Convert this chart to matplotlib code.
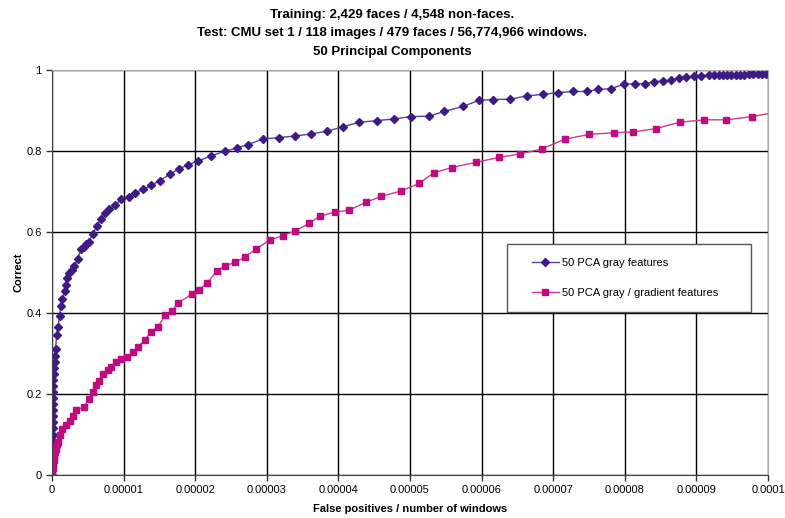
import numpy as np
import matplotlib.pyplot as plt
from matplotlib.patches import Rectangle

plt.rcParams['font.family'] = ['Liberation Sans', 'DejaVu Sans']

# Datos (falsos positivos en unidades de 1e-6)
gray_fp = np.array([0, 0.02, 0.03, 0.04, 0.05, 0.06, 0.07, 0.08, 0.09, 0.10, 0.11,
                    0.12, 0.13, 0.14, 0.15, 0.17, 0.2, 0.25, 0.3, 0.35, 0.4, 0.5,
                    0.65, 0.84, 1.07, 1.2, 1.44, 1.77, 1.96, 2.1, 2.44, 2.8, 3.1,
                    3.6, 4.0, 4.5, 4.8, 5.1, 5.7, 6.3, 6.8, 7.4, 8.0, 8.8, 9.7,
                    10.75, 11.6, 12.75, 13.8, 15.1, 16.5, 17.7, 19.0, 20.4, 22.2,
                    24.1, 25.9, 27.4, 29.5, 31.7, 33.9, 36.2, 38.4, 40.7, 42.9,
                    45.4, 47.7, 50.1, 52.7, 54.8, 57.4, 59.6, 61.6, 64.0, 66.3,
                    68.6, 70.7, 72.8, 74.7, 76.3, 78.1, 79.9, 81.4, 82.8, 84.1,
                    85.3, 86.4, 87.5, 88.6, 89.7, 90.6, 91.7, 92.4, 93.1, 93.7,
                    94.3, 94.9, 95.5, 96.1, 96.7, 97.3, 97.9, 98.6, 99.2, 99.7]) * 1e-6
gray_tp = np.array([0.0, 0.012, 0.025, 0.04, 0.055, 0.07, 0.085, 0.10, 0.115, 0.13,
                    0.145, 0.16, 0.175, 0.19, 0.205, 0.22, 0.235, 0.25, 0.265, 0.28,
                    0.295, 0.31, 0.346, 0.366, 0.393, 0.418, 0.435, 0.454, 0.468,
                    0.487, 0.50, 0.507, 0.516, 0.533, 0.557, 0.562, 0.570, 0.576,
                    0.595, 0.616, 0.632, 0.646, 0.656, 0.666, 0.681, 0.687, 0.697,
                    0.705, 0.715, 0.727, 0.743, 0.756, 0.766, 0.775, 0.788, 0.799,
                    0.808, 0.816, 0.830, 0.833, 0.837, 0.842, 0.849, 0.860, 0.871,
                    0.875, 0.879, 0.885, 0.886, 0.898, 0.910, 0.925, 0.927, 0.928,
                    0.936, 0.940, 0.944, 0.947, 0.947, 0.952, 0.954, 0.965, 0.966,
                    0.966, 0.971, 0.973, 0.975, 0.980, 0.983, 0.984, 0.985, 0.988,
                    0.988, 0.988, 0.988, 0.988, 0.988, 0.988, 0.988, 0.988, 0.989,
                    0.989, 0.99, 0.99, 0.99])

grad_fp = np.array([0, 0.05, 0.1, 0.15, 0.22, 0.3, 0.4, 0.5, 0.62, 0.75, 0.9, 1.07,
                    1.45, 1.9, 2.5, 3.0, 3.4, 4.5, 5.1, 5.7, 6.2, 6.6, 7.1, 7.8,
                    8.3, 9.0, 9.6, 10.5, 11.3, 12.0, 13.0, 13.8, 14.8, 15.8, 16.8,
                    17.6, 19.5, 20.6, 21.7, 23.0, 24.1, 25.6, 26.9, 28.5, 30.4,
                    32.2, 34.0, 35.9, 37.4, 39.5, 41.5, 43.8, 46.0, 48.7, 51.3,
                    53.3, 55.8, 59.2, 62.4, 65.4, 68.4, 71.6, 75.0, 78.5, 81.1,
                    84.3, 87.7, 91.1, 94.2, 97.8, 101.5]) * 1e-6
grad_tp = np.array([0, 0.008, 0.018, 0.028, 0.038, 0.047, 0.056, 0.064, 0.07, 0.076,
                    0.082, 0.099, 0.113, 0.123, 0.133, 0.145, 0.160, 0.168, 0.187,
                    0.204, 0.223, 0.233, 0.249, 0.259, 0.267, 0.280, 0.286, 0.291,
                    0.304, 0.317, 0.333, 0.354, 0.366, 0.394, 0.406, 0.425, 0.446,
                    0.458, 0.475, 0.503, 0.516, 0.525, 0.538, 0.558, 0.580, 0.591,
                    0.603, 0.621, 0.639, 0.649, 0.654, 0.673, 0.688, 0.701, 0.720,
                    0.746, 0.759, 0.772, 0.784, 0.793, 0.805, 0.829, 0.841, 0.845,
                    0.847, 0.855, 0.871, 0.877, 0.877, 0.885, 0.897])

xticks = np.arange(0, 11) * 1e-5
xtick_labels = ['0', '0.00001', '0.00002', '0.00003', '0.00004', '0.00005',
                '0.00006', '0.00007', '0.00008', '0.00009', '0.0001']
yticks = [0, 0.2, 0.4, 0.6, 0.8, 1]
ytick_labels = ['0', '0.2', '0.4', '0.6', '0.8', '1']

fig = plt.figure(figsize=(7.85, 5.18), dpi=100)
ax = fig.add_axes([52/785, 1 - 475/518, 716/785, 405/518])

ax.plot(gray_fp, gray_tp, color='#5b3f9e', marker='D', markersize=4.3,
        markerfacecolor='#3d1a85', markeredgecolor='#3d1a85',
        linewidth=1, label='50 PCA gray features')
ax.plot(grad_fp, grad_tp, color='#cc3a95', marker='s', markersize=5,
        markerfacecolor='#bf0a80', markeredgecolor='#bf0a80',
        linewidth=1, label='50 PCA gray / gradient features')

ax.set_xlim(0, 1e-4)
ax.set_ylim(0, 1)
ax.set_xticks(xticks)
ax.set_xticklabels(xtick_labels, fontsize=8)
ax.set_yticks(yticks)
ax.set_yticklabels(ytick_labels, fontsize=8)
ax.tick_params(direction='out', length=4, width=1, color='#333333')
ax.grid(True, color='black', linewidth=1)
ax.set_axisbelow(True)

for side in ['top', 'right']:
    ax.spines[side].set_color('#aaaaaa')
for side in ['left', 'bottom']:
    ax.spines[side].set_color('#444444')

ax.set_xlabel('False positives / number of windows', fontsize=8, fontweight='bold', labelpad=6)
ax.set_ylabel('Correct', fontsize=8, fontweight='bold', labelpad=2)

fig.text(0.5, 1 - 15/518, 'Training: 2,429 faces / 4,548 non-faces.', ha='center',
         va='center', fontsize=9.5, fontweight='bold')
fig.text(0.5, 1 - 33/518, 'Test: CMU set 1 / 118 images / 479 faces / 56,774,966 windows.',
         ha='center', va='center', fontsize=9.5, fontweight='bold')
fig.text(0.5, 1 - 52/518, '50 Principal Components', ha='center', va='center',
         fontsize=9.5, fontweight='bold')

# caja de la leyenda al estilo Excel
box = Rectangle(((507 - 52)/716, (475 - 312)/405), 244/716, 68/405,
                transform=ax.transAxes, facecolor='white', edgecolor='#555555',
                linewidth=1, zorder=5)
ax.add_patch(box)
leg = ax.legend(loc='center left', bbox_to_anchor=((532 - 52)/716, (475 - 278)/405),
                fontsize=8, frameon=False, borderpad=0,
                labelspacing=1.75, handlelength=2.4, handletextpad=0.3,
                borderaxespad=0)
leg.set_zorder(6)

plt.savefig('out.png', dpi=100)
